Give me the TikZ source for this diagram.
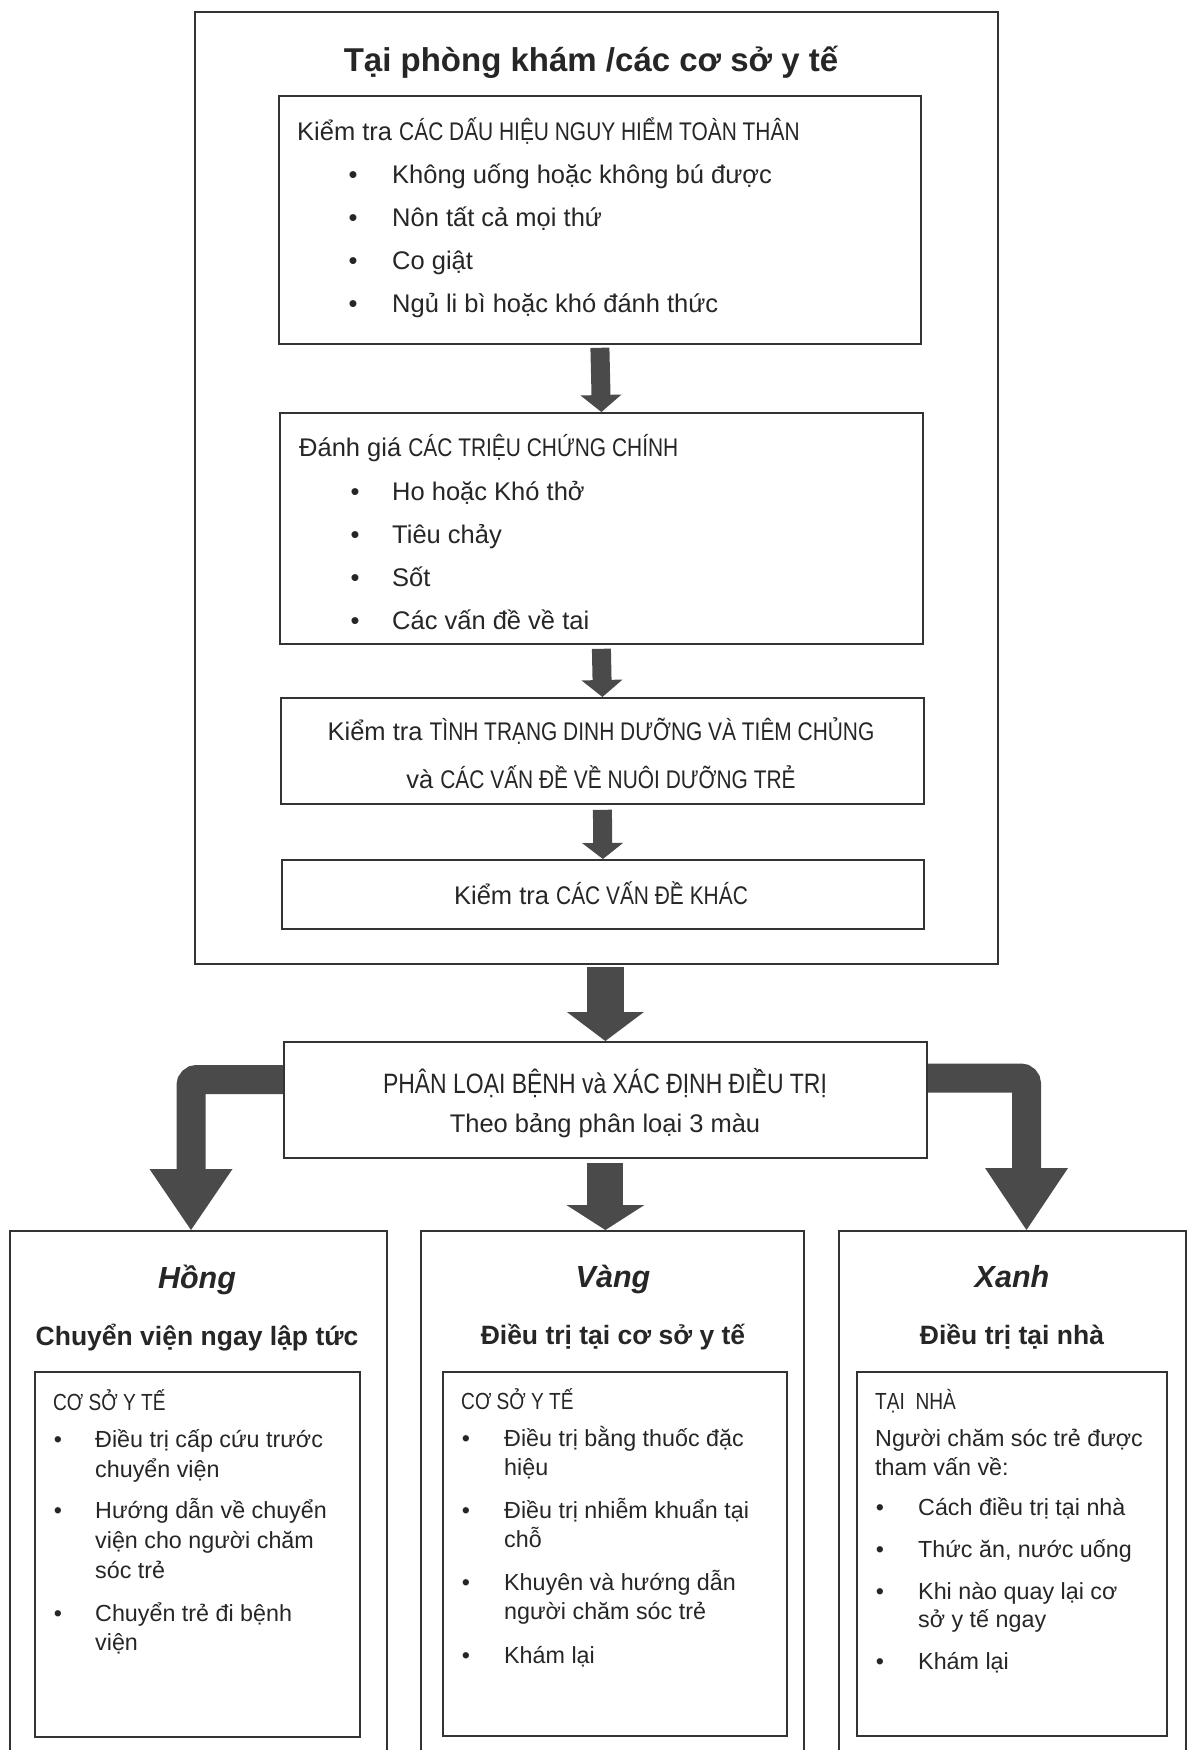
\documentclass[tikz,border=0pt]{standalone}
\usepackage{fontspec}
\setmainfont{Liberation Sans}
\newfontfamily\nar[FakeStretch=0.82]{Liberation Sans}
\usetikzlibrary{arrows.meta,calc}
\definecolor{ink}{HTML}{262626}
\definecolor{linec}{HTML}{333333}
\definecolor{arr}{HTML}{4A4A4A}
\newcommand\LT[5]{\node[#1,anchor=base west] (#2) at (#3,#4) {#5};}
\newcommand\CT[5]{\node[#1,anchor=base] (#2) at (#3,#4) {#5};}
\tikzset{
  box/.style={draw=linec, line width=1.8pt, inner sep=0pt, anchor=north west, fill=none},
  txt/.style={inner sep=0pt, text=ink},
  ttl/.style={txt, font=\fontsize{33}{40}\selectfont\bfseries},
  tb/.style={txt, font=\fontsize{25.5}{30}\selectfont},
  cl/.style={txt, font=\fontsize{28}{32}\selectfont\nar},
  hd/.style={txt, font=\fontsize{30.5}{36}\selectfont\bfseries\itshape},
  sub/.style={txt, font=\fontsize{26.5}{32}\selectfont\bfseries},
  bb/.style={txt, font=\fontsize{23.3}{28}\selectfont},
  fat/.style n args={3}{draw=arr, line width=#1,
     -{Triangle[width=#2,length=#3,line width=0pt,fill=arr]}},
}
\begin{document}
\begin{tikzpicture}[x=1pt,y=-1pt]
\useasboundingbox[fill=white] (0,0) rectangle (1188,1750);

% ---------- boxes ----------
\node[box, minimum width=803pt, minimum height=952pt] (outer) at (194,11) {};
\node[box, minimum width=642pt, minimum height=248pt] (b1) at (278,95) {};
\node[box, minimum width=643pt, minimum height=231pt] (b2) at (279,412) {};
\node[box, minimum width=643pt, minimum height=106pt] (b3) at (280,697) {};
\node[box, minimum width=642pt, minimum height=69pt] (b4) at (281,859) {};
\node[box, minimum width=643pt, minimum height=116pt] (cls) at (283,1041) {};
\node[box, minimum width=377pt, minimum height=540pt] (hong) at (9,1230) {};
\node[box, minimum width=325pt, minimum height=365pt] (hin) at (34,1371) {};
\node[box, minimum width=383pt, minimum height=540pt] (vang) at (420,1230) {};
\node[box, minimum width=344pt, minimum height=364pt] (vin) at (442,1371) {};
\node[box, minimum width=347pt, minimum height=540pt] (xanh) at (838,1230) {};
\node[box, minimum width=310pt, minimum height=364pt] (xin) at (856,1371) {};

% ---------- title ----------
\CT{ttl}{title}{591}{72}{Tại phòng khám /các cơ sở y tế}

% ---------- box 1 ----------
\LT{tb}{h1}{297}{140}{Kiểm tra {\nar CÁC DẤU HIỆU NGUY HIỂM TOÀN THÂN}}
\CT{tb}{d11}{353}{183}{•}\LT{tb}{t11}{392}{183}{Không uống hoặc không bú được}
\CT{tb}{d12}{353}{226}{•}\LT{tb}{t12}{392}{226}{Nôn tất cả mọi thứ}
\CT{tb}{d13}{353}{269}{•}\LT{tb}{t13}{392}{269}{Co giật}
\CT{tb}{d14}{353}{312}{•}\LT{tb}{t14}{392}{312}{Ngủ li bì hoặc khó đánh thức}

% ---------- box 2 ----------
\LT{tb}{h2}{299}{456}{Đánh giá {\nar CÁC TRIỆU CHỨNG CHÍNH}}
\CT{tb}{d21}{355}{500}{•}\LT{tb}{t21}{392}{500}{Ho hoặc Khó thở}
\CT{tb}{d22}{355}{543}{•}\LT{tb}{t22}{392}{543}{Tiêu chảy}
\CT{tb}{d23}{355}{586}{•}\LT{tb}{t23}{392}{586}{Sốt}
\CT{tb}{d24}{355}{629}{•}\LT{tb}{t24}{392}{629}{Các vấn đề về tai}

% ---------- box 3 / box 4 ----------
\CT{tb}{t31}{601}{740}{Kiểm tra {\nar TÌNH TRẠNG DINH DƯỠNG VÀ TIÊM CHỦNG}}
\CT{tb}{t32}{601}{788}{và {\nar CÁC VẤN ĐỀ VỀ NUÔI DƯỠNG TRẺ}}
\CT{tb}{t41}{601}{904}{Kiểm tra {\nar CÁC VẤN ĐỀ KHÁC}}

% ---------- classification ----------
\CT{cl}{c1}{605}{1093}{PHÂN LOẠI BỆNH và XÁC ĐỊNH ĐIỀU TRỊ}
\CT{tb}{c2}{605}{1132}{Theo bảng phân loại 3 màu}

% ---------- Hong ----------
\CT{hd}{hh}{197}{1288}{Hồng}
\CT{sub}{hs}{197}{1345}{Chuyển viện ngay lập tức}
\LT{bb}{hc}{53}{1410}{{\nar CƠ SỞ Y TẾ}}
\CT{bb}{hd1}{58}{1447}{•}\LT{bb}{h11}{95}{1447}{Điều trị cấp cứu trước}
\LT{bb}{h12}{95}{1477}{chuyển viện}
\CT{bb}{hd2}{58}{1518}{•}\LT{bb}{h21}{95}{1518}{Hướng dẫn về chuyển}
\LT{bb}{h22}{95}{1548}{viện cho người chăm}
\LT{bb}{h23}{95}{1578}{sóc trẻ}
\CT{bb}{hd3}{58}{1621}{•}\LT{bb}{h31}{95}{1621}{Chuyển trẻ đi bệnh}
\LT{bb}{h32}{95}{1650}{viện}

% ---------- Vang ----------
\CT{hd}{vh}{613}{1287}{Vàng}
\CT{sub}{vs}{613}{1344}{Điều trị tại cơ sở y tế}
\LT{bb}{vc}{461}{1409}{{\nar CƠ SỞ Y TẾ}}
\CT{bb}{vd1}{466}{1446}{•}\LT{bb}{v11}{504}{1446}{Điều trị bằng thuốc đặc}
\LT{bb}{v12}{504}{1475}{hiệu}
\CT{bb}{vd2}{466}{1518}{•}\LT{bb}{v21}{504}{1518}{Điều trị nhiễm khuẩn tại}
\LT{bb}{v22}{504}{1547}{chỗ}
\CT{bb}{vd3}{466}{1590}{•}\LT{bb}{v31}{504}{1590}{Khuyên và hướng dẫn}
\LT{bb}{v32}{504}{1619}{người chăm sóc trẻ}
\CT{bb}{vd4}{466}{1663}{•}\LT{bb}{v41}{504}{1663}{Khám lại}

% ---------- Xanh ----------
\CT{hd}{xh}{1012}{1287}{Xanh}
\CT{sub}{xs}{1012}{1344}{Điều trị tại nhà}
\LT{bb}{xc}{875}{1409}{{\nar TẠI\ \ NHÀ}}
\LT{bb}{x01}{875}{1446}{Người chăm sóc trẻ được}
\LT{bb}{x02}{875}{1475}{tham vấn về:}
\CT{bb}{xd1}{880}{1515}{•}\LT{bb}{x11}{918}{1515}{Cách điều trị tại nhà}
\CT{bb}{xd2}{880}{1557}{•}\LT{bb}{x21}{918}{1557}{Thức ăn, nước uống}
\CT{bb}{xd3}{880}{1599}{•}\LT{bb}{x31}{918}{1599}{Khi nào quay lại cơ}
\LT{bb}{x32}{918}{1627}{sở y tế ngay}
\CT{bb}{xd4}{880}{1669}{•}\LT{bb}{x41}{918}{1669}{Khám lại}

% ---------- arrows ----------
\draw[fat={19pt}{41pt}{17pt}] ([yshift=-3pt]b1.south) -- (b2.north);
\draw[fat={19pt}{41pt}{17pt}] ([yshift=-4pt]b2.south) -- (b3.north);
\draw[fat={19pt}{41pt}{16pt}] ([yshift=-5pt]b3.south) -- (b4.north);
\draw[fat={37pt}{77pt}{29pt}] ([yshift=-2pt]cls.north |- outer.south) -- (cls.north);
\draw[fat={36pt}{78pt}{25pt}] ([yshift=-4pt]cls.south) -- (cls.south |- vang.north);
\coordinate (lb) at (191,1079.5);
\coordinate (rb) at (1026.5,1078);
\draw[fat={29pt}{83pt}{61pt}, rounded corners=6pt] (cls.west |- lb) -- (lb) -- (lb |- hong.north);
\draw[fat={29pt}{83pt}{62pt}, rounded corners=6pt] (cls.east |- rb) -- (rb) -- (rb |- xanh.north);
\end{tikzpicture}
\end{document}
